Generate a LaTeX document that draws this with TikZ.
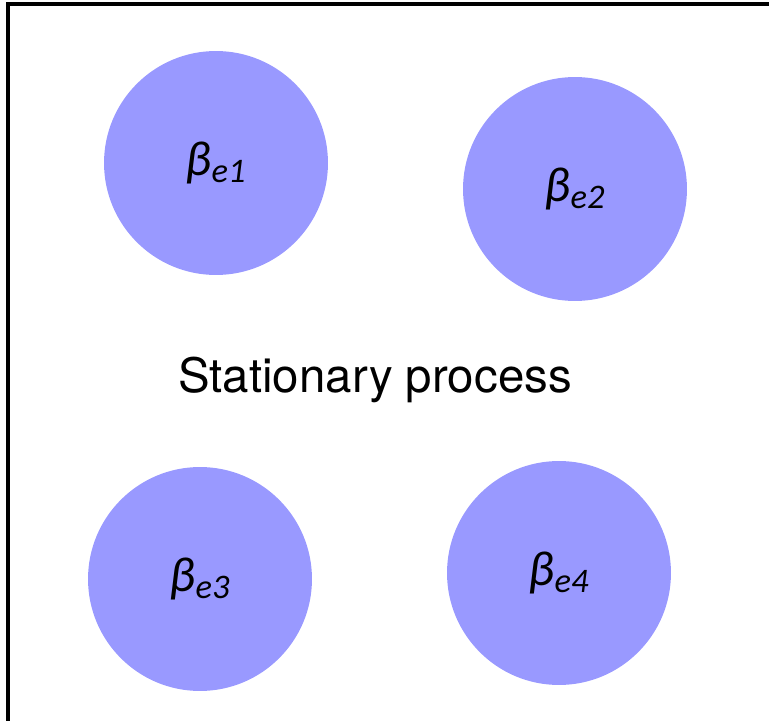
\documentclass[tikz,border=0pt]{standalone}
\usepackage{fontspec}
\setmainfont{TeX Gyre Heros}
\newfontfamily\carlito{Carlito}
\definecolor{blobblue}{RGB}{153,153,255}
\begin{document}
\begin{tikzpicture}
[x=0.02cm, y=-0.02cm, font=\fontsize{27}{31}\selectfont]
\tikzstyle{blob}=[circle, fill=blobblue, inner sep=0mm, minimum size=4.48cm, font=\carlito\itshape\fontsize{28}{32}\selectfont]
\useasboundingbox (0,0) rectangle (769,721);
\draw [line width=1.8pt] (8,721)--(8,4)--(769,4);

\node[blob]	(B1)	at (216,163)	{\raisebox{-3pt}{β\textsubscript{e1}}};
\node[blob]	(B2)	at (575,189)	{\raisebox{-3pt}{β\textsubscript{e2}}};
\node[blob]	(B3)	at (200,579)	{\raisebox{-5pt}{β\textsubscript{e3}}};
\node[blob]	(B4)	at (559,573)	{\raisebox{-4pt}{β\textsubscript{e4}}};

\node	(SP)	at (375,380)	{Stationary process};
\end{tikzpicture}
\end{document}
